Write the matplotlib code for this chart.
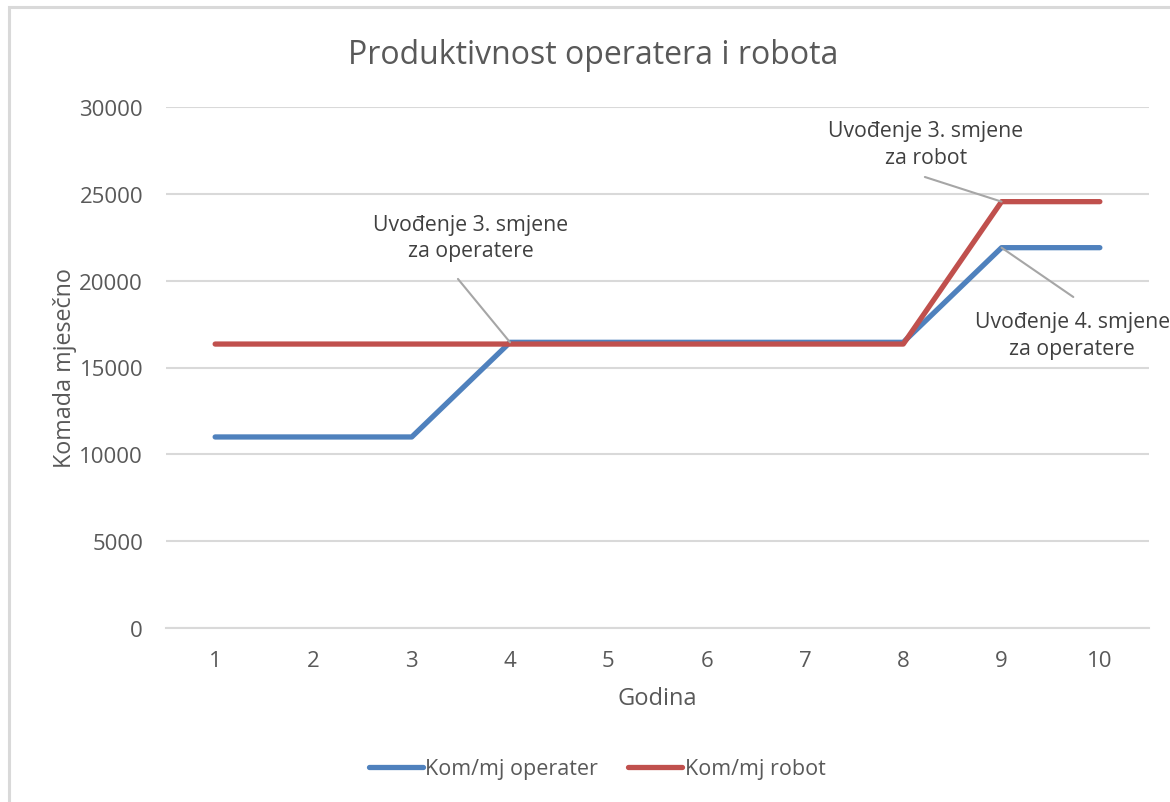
import matplotlib
matplotlib.use("Agg")
import matplotlib.pyplot as plt
from matplotlib.patches import Rectangle

plt.rcParams['font.family'] = ['Open Sans', 'DejaVu Sans']

years = [1, 2, 3, 4, 5, 6, 7, 8, 9, 10]
operater = [11000, 11000, 11000, 16450, 16450, 16450, 16450, 16450, 21900, 21900]
robot = [16350, 16350, 16350, 16350, 16350, 16350, 16350, 16350, 24550, 24550]
yticks = [0, 5000, 10000, 15000, 20000, 25000, 30000]
series_names = ['Kom/mj operater', 'Kom/mj robot']

title = 'Produktivnost operatera i robota'
xlabel = 'Godina'
ylabel = 'Komada mjesečno'

ann_texts = ['Uvođenje 3. smjene\nza operatere',
             'Uvođenje 3. smjene\nza robot',
             'Uvođenje 4. smjene\nza operatere']

W, H = 1170, 803
fig = plt.figure(figsize=(W / 100, H / 100), dpi=100)
fig.patch.set_facecolor('white')

# outer chart border
fig.add_artist(Rectangle((9 / W, -0.05), 1.1, 1 - 8 / H + 0.05, transform=fig.transFigure,
                         fill=False, edgecolor='#D9D9D9', linewidth=2.2))

ax = fig.add_axes([166 / W, 1 - 629 / H, (1149 - 166) / W, (629 - 108) / H])
blue = '#4F81BD'
red = '#C0504D'
txt = '#595959'

ax.plot(years, operater, color=blue, lw=3.8, solid_capstyle='round', solid_joinstyle='round',
        label=series_names[0], zorder=3)
ax.plot(years, robot, color=red, lw=3.8, solid_capstyle='round', solid_joinstyle='round',
        label=series_names[1], zorder=3)

ax.set_xlim(0.5, 10.5)
ax.set_ylim(0, 30000)
ax.set_yticks(yticks)
ax.set_xticks(years)
ax.grid(axis='y', color='#D9D9D9', lw=1.5)
ax.set_axisbelow(True)
for s in ['top', 'right', 'left']:
    ax.spines[s].set_visible(False)
ax.spines['bottom'].set_color('#D9D9D9')
ax.spines['bottom'].set_linewidth(1.5)
ax.tick_params(length=0, labelsize=16, labelcolor=txt)
ax.tick_params(axis='y', pad=16.5)
ax.tick_params(axis='x', pad=16)

ax.set_xlabel(xlabel, fontsize=17, color=txt, labelpad=11)
ax.set_ylabel(ylabel, fontsize=16.8, color=txt, labelpad=2)

fig.text(593 / W, 1 - 55 / H, title, ha='center', va='center',
         fontsize=23, color=txt)

# annotations: (text x, text y, line start x, line start y, point index, series)
ann_specs = [
    (3.60, 22500, 3.47, 20100, 3, operater),
    (8.23, 27870, 8.22, 25970, 8, robot),
    (9.72, 16870, 9.73, 19060, 8, operater),
]
for t, (tx, ty, lx, ly, idx, ser) in zip(ann_texts, ann_specs):
    ax.annotate('', xy=(years[idx], ser[idx]), xytext=(lx, ly),
                arrowprops=dict(arrowstyle='-', color='#A6A6A6', lw=1.5,
                                shrinkA=0, shrinkB=0), zorder=4)
    ax.text(tx, ty, t, ha='center', va='center', fontsize=15.3, color='#404040',
            linespacing=1.32, clip_on=False, zorder=5)

leg = fig.legend(loc='center', bbox_to_anchor=(597 / W, 1 - 770 / H), ncol=2,
                 frameon=False, fontsize=15.5, handlelength=2.5, handletextpad=0.12,
                 columnspacing=1.4, labelcolor=txt)

fig.savefig('out.png', dpi=100)
